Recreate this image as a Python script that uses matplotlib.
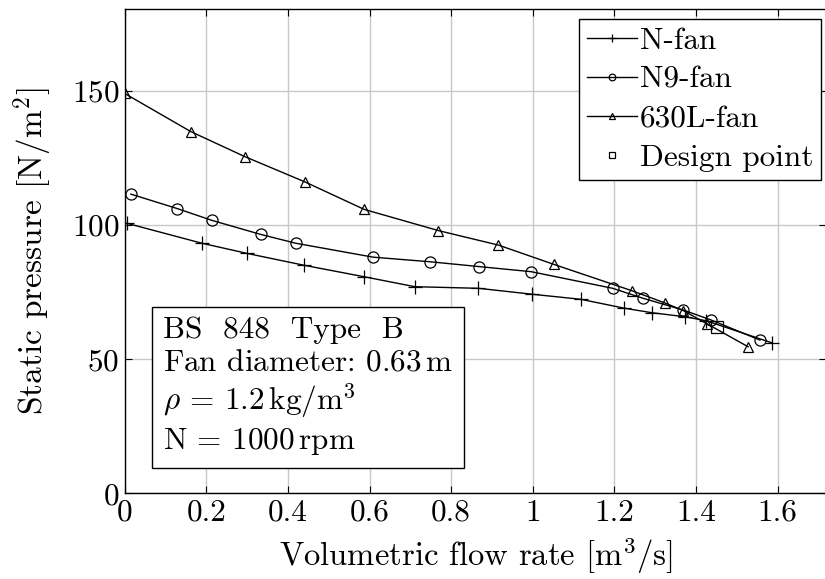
import matplotlib
matplotlib.use("Agg")
import matplotlib.pyplot as plt

plt.rcParams['font.family'] = 'cmr10'
plt.rcParams['mathtext.fontset'] = 'cm'
plt.rcParams['axes.formatter.use_mathtext'] = True
plt.rcParams['font.size'] = 22.5

# N-fan
n_flow = [0.006, 0.189, 0.300, 0.439, 0.587, 0.711, 0.867, 0.998, 1.118, 1.224, 1.292, 1.373, 1.425, 1.586]
n_pres = [100.6, 93.2, 89.4, 85.0, 80.7, 77.0, 76.4, 74.2, 72.3, 69.0, 67.3, 65.8, 64.3, 56.1]

# N9-fan
n9_flow = [0.015, 0.129, 0.214, 0.333, 0.419, 0.609, 0.748, 0.868, 0.996, 1.196, 1.270, 1.369, 1.437, 1.557]
n9_pres = [111.5, 106.1, 101.7, 96.5, 93.2, 88.0, 86.3, 84.5, 82.6, 76.4, 72.7, 68.3, 64.6, 57.1]

# 630L-fan
l_flow = [0.0, 0.162, 0.294, 0.441, 0.587, 0.769, 0.916, 1.052, 1.243, 1.323, 1.369, 1.428, 1.528]
l_pres = [149.0, 134.8, 125.5, 116.1, 105.8, 97.9, 92.5, 85.3, 75.5, 71.0, 68.1, 63.1, 54.6]

design_flow = [1.451]
design_pres = [62.1]

x_ticks = [0, 0.2, 0.4, 0.6, 0.8, 1.0, 1.2, 1.4, 1.6]
x_labels = ['0', '0.2', '0.4', '0.6', '0.8', '1', '1.2', '1.4', '1.6']
y_ticks = [0, 50, 100, 150]

fig = plt.figure(figsize=(8.25, 5.79), dpi=100)
ax = fig.add_axes([0.1512, 0.148, 0.8506, 0.8365])

line_kw = dict(color='black', lw=1.0, mfc='none', mec='black', mew=0.9)
ax.plot(n_flow, n_pres, marker='+', ms=10, label='N-fan', **line_kw)
ax.plot(n9_flow, n9_pres, marker='o', ms=8, label='N9-fan', **line_kw)
ax.plot(l_flow, l_pres, marker='^', ms=7.5, label='630L-fan', **line_kw)
ax.plot(design_flow, design_pres, ls='none', marker='s', ms=8, mfc='none',
        mec='black', mew=0.9, label='Design point')

ax.set_xlim(0, 1.72)
ax.set_ylim(0, 180.5)
ax.set_xticks(x_ticks)
ax.set_xticklabels(x_labels)
ax.set_yticks(y_ticks)
ax.grid(True, color='#c8c8c8', lw=1.0)
ax.set_axisbelow(True)
ax.tick_params(direction='in', length=5, width=0.8, top=True, right=True, pad=4)
for s in ax.spines.values():
    s.set_linewidth(1.0)

ax.set_xlabel(r'Volumetric flow rate [m$^3$/s]', fontsize=23.5, labelpad=6)
ax.set_ylabel(r'Static pressure [N/m$^2$]', fontsize=24, labelpad=12)

leg = ax.legend(loc='upper right', bbox_to_anchor=(821 / 825, 1 - 19 / 579),
                bbox_transform=fig.transFigure, frameon=True, fancybox=False,
                edgecolor='black', framealpha=1, handlelength=1.6, handletextpad=0.1,
                labelspacing=0.36, borderpad=0.25, borderaxespad=0, markerscale=0.6,
                fontsize=22.5)
leg.get_frame().set_linewidth(1.0)

info = ("BS  848  Type  B\n"
        r"Fan diameter: 0.63$\,$m" "\n"
        r"$\rho$ = 1.2$\,$kg/m$^3$" "\n"
        r"N = 1000$\,$rpm")
ax.text(0.094, 13.5, info, ha='left', va='bottom', linespacing=1.2, fontsize=22.5,
        bbox=dict(boxstyle='square,pad=0.35', fc='white', ec='black', lw=1.0))

fig.savefig('out.png', dpi=100)
